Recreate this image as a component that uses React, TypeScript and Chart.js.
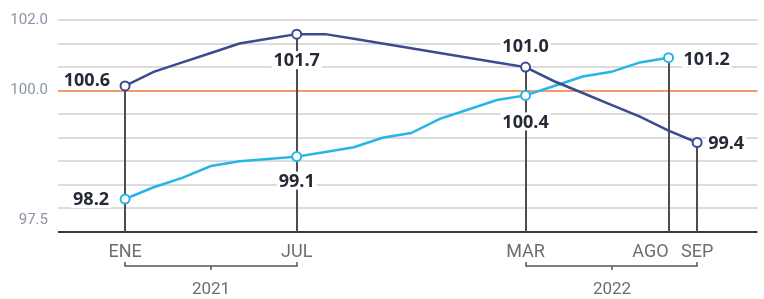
import React, { useEffect, useRef } from "react";
import { Chart, registerables } from "chart.js";

Chart.register(...registerables);

// ---------- data ----------
const monthLabels = [
  "ENE", "FEB", "MAR", "ABR", "MAY", "JUN", "JUL", "AGO", "SEP", "OCT", "NOV", "DIC",
  "ENE", "FEB", "MAR", "ABR", "MAY", "JUN", "JUL", "AGO", "SEP",
];
const yearLabels = ["2021", "2022"];
const yearSpans = [
  [0, 6],
  [14, 20],
];
const axisMonths = [0, 6, 14, 19, 20];

const darkSeries = [
  100.6, 100.9, 101.1, 101.3, 101.5, 101.6, 101.7, 101.7, 101.6, 101.5, 101.4, 101.3,
  101.2, 101.1, 101.0, 100.7, 100.45, 100.2, 99.95, 99.65, 99.4,
];
const lightSeries = [
  98.2, 98.45, 98.65, 98.9, 99.0, 99.05, 99.1, 99.2, 99.3, 99.5, 99.6, 99.9,
  100.1, 100.3, 100.4, 100.6, 100.8, 100.9, 101.1, 101.2,
];
const darkMarked = [0, 6, 14, 20];
const lightMarked = [0, 6, 14, 19];

const yMin = 97.5;
const yMax = 102;
const yGridValues = [97.5, 98, 98.5, 99, 99.5, 100, 100.5, 101, 101.5, 102];
const referenceLine = 100.5;
const yTickTexts = ["102.0", "100.0", "97.5"];
const yTickValues = [102, referenceLine, yMin];

// ---------- styles ----------
const DARK = "#3c4a8e";
const LIGHT = "#27b4e6";
const ORANGE = "#f39a6b";
const GRID = "#dcdcdc";
const AXIS = "#3a3a3a";
const DROP = "#4d4d4d";
const LABEL_FONT = "'Open Sans', 'Liberation Sans', sans-serif";
const AXIS_FONT = "Roboto, sans-serif";

// month label alignment (style only)
const monthAlign: Record<number, string> = { 19: "right" };

// label placement per marked point (style only)
const labelPlacement = [
  { series: "dark", index: 0, align: "right", dx: -15, dy: -6 },
  { series: "light", index: 0, align: "right", dx: -16, dy: 0 },
  { series: "dark", index: 6, align: "center", dx: 0, dy: 26 },
  { series: "light", index: 6, align: "center", dx: 0, dy: 24 },
  { series: "dark", index: 14, align: "center", dx: 0, dy: -21 },
  { series: "light", index: 14, align: "center", dx: 0, dy: 26 },
  { series: "light", index: 19, align: "left", dx: 15, dy: 1 },
  { series: "dark", index: 20, align: "left", dx: 11, dy: 0 },
];

const overlay = {
  id: "overlay",
  beforeDatasetsDraw(chart: any) {
    const { ctx, chartArea, scales } = chart;
    const x = scales.x;
    const y = scales.y;
    ctx.save();
    ctx.strokeStyle = DROP;
    ctx.lineWidth = 2;
    axisMonths.forEach((i) => {
      const vals: number[] = [];
      if (darkMarked.includes(i)) vals.push(darkSeries[i]);
      if (lightMarked.includes(i)) vals.push(lightSeries[i]);
      const top = Math.max(...vals);
      const px = Math.round(x.getPixelForValue(i));
      ctx.beginPath();
      ctx.moveTo(px, y.getPixelForValue(top));
      ctx.lineTo(px, chartArea.bottom);
      ctx.stroke();
    });
    ctx.restore();
  },
  afterDatasetsDraw(chart: any) {
    const { ctx, chartArea, scales } = chart;
    const x = scales.x;
    const y = scales.y;
    ctx.save();

    // point value labels
    ctx.font = `bold 18px ${LABEL_FONT}`;
    ctx.textBaseline = "middle";
    labelPlacement.forEach((p) => {
      const arr = p.series === "dark" ? darkSeries : lightSeries;
      const v = arr[p.index];
      const text = v.toFixed(1);
      const px = x.getPixelForValue(p.index) + p.dx;
      const py = y.getPixelForValue(v) + p.dy;
      const w = ctx.measureText(text).width;
      let left = px;
      if (p.align === "center") left = px - w / 2;
      if (p.align === "right") left = px - w;
      ctx.fillStyle = "#ffffff";
      ctx.fillRect(left - 2, py - 9, w + 4, 18);
      ctx.fillStyle = "#262a36";
      ctx.textAlign = "left";
      ctx.fillText(text, left, py + 1);
    });

    // y labels
    ctx.font = `15px ${AXIS_FONT}`;
    ctx.fillStyle = "#8a94a6";
    ctx.textAlign = "right";
    ctx.textBaseline = "middle";
    yTickTexts.forEach((t, k) => {
      const v = yTickValues[k];
      let py = y.getPixelForValue(v);
      if (v === yMin) py -= 12;
      ctx.fillText(t, 48, py);
    });

    // month labels
    ctx.font = `18px ${AXIS_FONT}`;
    ctx.fillStyle = "#6e6e6e";
    axisMonths.forEach((i) => {
      const a = monthAlign[i] || "center";
      ctx.textAlign = a as CanvasTextAlign;
      ctx.fillText(monthLabels[i], x.getPixelForValue(i), chartArea.bottom + 20);
    });

    // year brackets
    ctx.strokeStyle = "#555555";
    ctx.lineWidth = 1.5;
    ctx.textAlign = "center";
    ctx.font = `17px ${AXIS_FONT}`;
    const by = chartArea.bottom + 34;
    yearSpans.forEach((s, k) => {
      const a = Math.round(x.getPixelForValue(s[0]));
      const b = Math.round(x.getPixelForValue(s[1]));
      const m = Math.round((a + b) / 2);
      ctx.beginPath();
      ctx.moveTo(a, by - 4);
      ctx.lineTo(a, by);
      ctx.lineTo(b, by);
      ctx.lineTo(b, by - 4);
      ctx.moveTo(m, by);
      ctx.lineTo(m, by + 4);
      ctx.stroke();
      ctx.fillStyle = "#6e6e6e";
      ctx.fillText(yearLabels[k], m, by + 24);
    });

    ctx.restore();
  },
};

export default function App() {
  const ref = useRef<HTMLCanvasElement | null>(null);
  useEffect(() => {
    if (!ref.current) return;
    const chart = new Chart(ref.current, {
      type: "line",
      data: {
        datasets: [
          {
            data: darkSeries.map((v, i) => ({ x: i, y: v })),
            borderColor: DARK,
            borderWidth: 2.5,
            tension: 0,
            pointRadius: (c: any) => (darkMarked.includes(c.dataIndex) ? 4.5 : 0),
            pointBackgroundColor: "#ffffff",
            pointBorderColor: DARK,
            pointBorderWidth: 2,
          },
          {
            data: lightSeries.map((v, i) => ({ x: i, y: v })),
            borderColor: LIGHT,
            borderWidth: 2.5,
            tension: 0,
            pointRadius: (c: any) => (lightMarked.includes(c.dataIndex) ? 4.5 : 0),
            pointBackgroundColor: "#ffffff",
            pointBorderColor: LIGHT,
            pointBorderWidth: 2,
          },
        ],
      },
      options: {
        animation: false,
        responsive: false,
        events: [],
        layout: { padding: { left: 58, right: 0, top: 20, bottom: 67 } },
        plugins: { legend: { display: false }, tooltip: { enabled: false } },
        scales: {
          x: {
            type: "linear",
            min: -2.345,
            max: 22.11,
            display: false,
          },
          y: {
            type: "linear",
            min: yMin,
            max: yMax,
            display: true,
            afterBuildTicks: (s: any) => {
              s.ticks = yGridValues.map((v) => ({ value: v }));
            },
            afterFit: (s: any) => {
              s.width = 0;
            },
            ticks: { display: false },
            border: { display: false },
            grid: {
              drawTicks: false,
              lineWidth: 2,
              color: (c: any) =>
                c.tick && c.tick.value === yMin
                  ? AXIS
                  : c.tick && c.tick.value === referenceLine
                  ? ORANGE
                  : GRID,
            },
          },
        },
      },
      plugins: [overlay],
    } as any);
    return () => chart.destroy();
  }, []);
  return (
    <div style={{ position: "fixed", left: 0, top: 0, width: 764, height: 299, background: "#fff" }}>
      <canvas ref={ref} width={764} height={299} style={{ display: "block" }} />
    </div>
  );
}
